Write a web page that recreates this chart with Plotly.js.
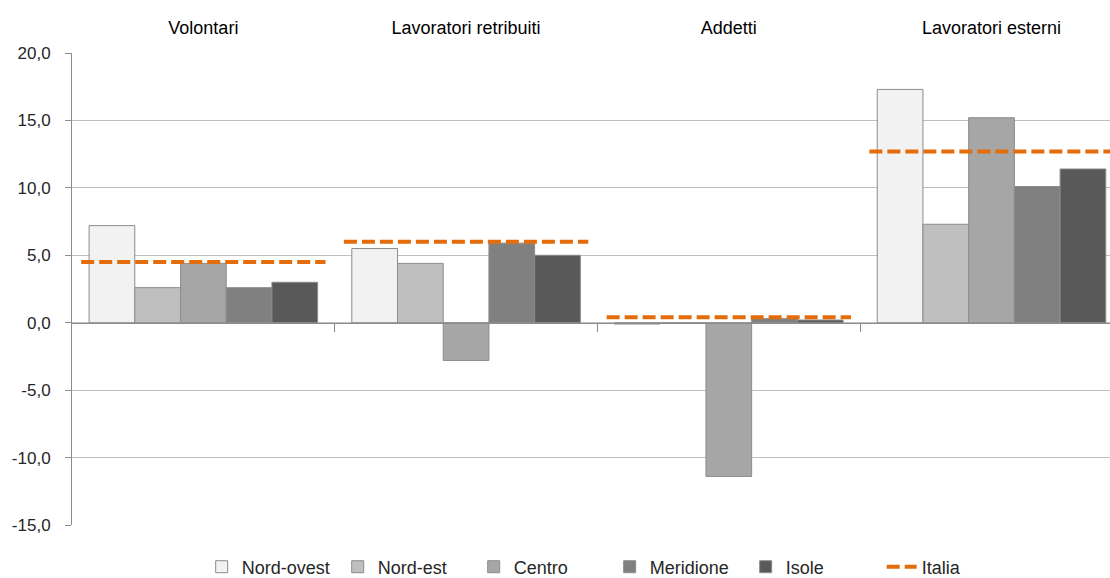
<!DOCTYPE html>
<html>
<head>
<meta charset="utf-8">
<script src="https://cdn.plot.ly/plotly-3.0.1.min.js"></script>
<style>
html,body{margin:0;padding:0;background:#fff;}
#chart{width:1110px;height:578px;}
</style>
</head>
<body>
<div id="chart"></div>
<script>
// Data
var categories = ["Volontari", "Lavoratori retribuiti", "Addetti", "Lavoratori esterni"];
var nordOvest = [7.2, 5.5, -0.1, 17.3];
var nordEst   = [2.6, 4.4, -0.05, 7.3];
var centro    = [4.4, -2.8, -11.4, 15.2];
var meridione = [2.6, 5.9, 0.3, 10.1];
var isole     = [3.0, 5.0, 0.2, 11.4];
var italia    = [4.5, 6.0, 0.4, 12.7];
var yTicks    = [-15, -10, -5, 0, 5, 10, 15, 20];
var yTickText = yTicks.map(function(v){ return v.toFixed(1).replace(".", ","); });

var idx = categories.map(function(_, i){ return i; });

var seriesNames  = ["Nord-ovest", "Nord-est", "Centro", "Meridione", "Isole"];
var seriesValues = [nordOvest, nordEst, centro, meridione, isole];
var seriesColors = ["#f2f2f2", "#bfbfbf", "#a6a6a6", "#808080", "#595959"];

var traces = seriesNames.map(function(name, s){
  return {
    type: "bar",
    name: name,
    x: idx,
    y: seriesValues[s],
    marker: {color: seriesColors[s], line: {color: "#8c8c8c", width: 1}},
    hoverinfo: "name+y"
  };
});

// Italia: a dashed horizontal segment across each category
var half = 0.465;
var ix = [], iy = [];
italia.forEach(function(v, i){
  ix.push(i - half, i + half, null);
  iy.push(v, v, null);
});
traces.push({
  type: "scatter",
  mode: "lines",
  name: "Italia",
  x: ix,
  y: iy,
  xaxis: "x2",
  connectgaps: false,
  line: {color: "#e46c0a", width: 4, dash: "13px,5px"},
  hoverinfo: "skip"
});

var xr = [-0.5, categories.length - 0.549];
var boundaries = idx.slice(1).map(function(i){ return i - 0.5; });
var yMin = -15, yMax = 20;

var layout = {
  width: 1110,
  height: 578,
  margin: {l: 72, r: 0, t: 53, b: 53, autoexpand: false},
  paper_bgcolor: "#ffffff",
  plot_bgcolor: "#ffffff",
  separators: ",.",
  font: {family: "Liberation Sans, Arial, sans-serif", size: 16, color: "#262626"},
  barmode: "group",
  bargap: 0.13,
  bargroupgap: 0,
  showlegend: true,
  legend: {
    orientation: "h",
    x: 0.518, xanchor: "center",
    y: -0.089, yanchor: "middle",
    font: {size: 18, color: "#262626"},
    itemwidth: 30,
    entrywidth: 91,
    traceorder: "normal"
  },
  xaxis: {
    type: "linear",
    range: xr,
    anchor: "free",
    position: (0 - yMin) / (yMax - yMin),
    automargin: false,
    showgrid: false,
    zeroline: false,
    showline: true,
    linecolor: "#8c8c8c",
    linewidth: 1,
    tickmode: "array",
    tickvals: boundaries,
    ticks: "outside",
    ticklen: 8,
    tickcolor: "#8c8c8c",
    showticklabels: false,
    fixedrange: true
  },
  xaxis2: {
    type: "linear",
    overlaying: "x",
    side: "top",
    range: xr,
    automargin: false,
    showgrid: false,
    zeroline: false,
    showline: false,
    tickmode: "array",
    tickvals: idx,
    ticktext: categories,
    ticks: "",
    tickfont: {size: 18, color: "#000000"},
    ticklabelstandoff: 14,
    fixedrange: true
  },
  yaxis: {
    range: [yMin, yMax],
    automargin: false,
    tickmode: "array",
    tickvals: yTicks,
    ticktext: yTickText,
    showgrid: true,
    gridcolor: "#c0c0c0",
    gridwidth: 1,
    zeroline: false,
    showline: true,
    linecolor: "#8c8c8c",
    linewidth: 1,
    ticks: "outside",
    ticklen: 6,
    tickcolor: "#8c8c8c",
    ticklabelstandoff: 11,
    tickfont: {size: 17, color: "#262626"},
    fixedrange: true
  }
};

Plotly.newPlot("chart", traces, layout, {displayModeBar: false, staticPlot: true});
</script>
</body>
</html>
